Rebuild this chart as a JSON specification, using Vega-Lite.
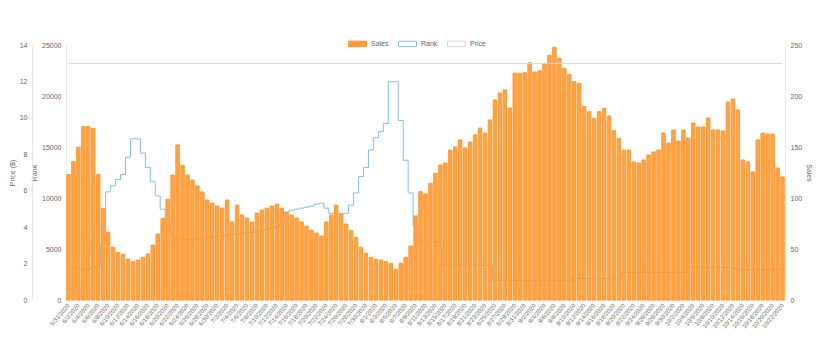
{
  "$schema": "https://vega.github.io/schema/vega-lite/v6.json",
  "width": 719,
  "height": 255,
  "padding": {"left": 8, "top": 34, "right": 5, "bottom": 5},
  "background": "white",
  "config": {
    "view": {"stroke": null},
    "font": "Liberation Sans",
    "axis": {
      "labelFontSize": 7,
      "labelColor": "#666666",
      "titleFontSize": 7,
      "titleFontWeight": "normal",
      "titleColor": "#666666",
      "domainColor": "#e8e8e8",
      "ticks": false,
      "grid": false,
      "labelPadding": 5
    },
    "legend": {
      "labelFontSize": 7,
      "labelColor": "#666666"
    }
  },
  "data": {
    "values": [
      {"d": "5/31/2020", "s": 12300, "r": 33, "p": 12.99},
      {"d": "6/1/2020", "s": 13560, "r": 32, "p": 12.99},
      {"d": "6/2/2020", "s": 14970, "r": 31, "p": 12.99},
      {"d": "6/3/2020", "s": 16990, "r": 30, "p": 12.99},
      {"d": "6/4/2020", "s": 17000, "r": 30, "p": 12.99},
      {"d": "6/5/2020", "s": 16830, "r": 31, "p": 12.99},
      {"d": "6/6/2020", "s": 12320, "r": 33, "p": 12.99},
      {"d": "6/7/2020", "s": 8990, "r": 55, "p": 12.99},
      {"d": "6/8/2020", "s": 6640, "r": 106, "p": 12.99},
      {"d": "6/9/2020", "s": 5170, "r": 112, "p": 12.99},
      {"d": "6/10/2020", "s": 4670, "r": 118, "p": 12.99},
      {"d": "6/11/2020", "s": 4480, "r": 123, "p": 12.99},
      {"d": "6/12/2020", "s": 4020, "r": 140, "p": 12.99},
      {"d": "6/13/2020", "s": 3760, "r": 158, "p": 12.99},
      {"d": "6/14/2020", "s": 3920, "r": 158, "p": 12.99},
      {"d": "6/15/2020", "s": 4180, "r": 144, "p": 12.99},
      {"d": "6/16/2020", "s": 4510, "r": 130, "p": 12.99},
      {"d": "6/17/2020", "s": 5390, "r": 116, "p": 12.99},
      {"d": "6/18/2020", "s": 6470, "r": 102, "p": 12.99},
      {"d": "6/19/2020", "s": 8010, "r": 89, "p": 12.99},
      {"d": "6/20/2020", "s": 9870, "r": 75, "p": 12.99},
      {"d": "6/21/2020", "s": 12250, "r": 62, "p": 12.99},
      {"d": "6/22/2020", "s": 15200, "r": 60, "p": 12.99},
      {"d": "6/23/2020", "s": 13200, "r": 60, "p": 12.99},
      {"d": "6/24/2020", "s": 12250, "r": 59, "p": 12.99},
      {"d": "6/25/2020", "s": 11760, "r": 59, "p": 12.99},
      {"d": "6/26/2020", "s": 11180, "r": 60, "p": 12.99},
      {"d": "6/27/2020", "s": 10590, "r": 60, "p": 12.99},
      {"d": "6/28/2020", "s": 9800, "r": 61, "p": 12.99},
      {"d": "6/29/2020", "s": 9500, "r": 62, "p": 12.99},
      {"d": "6/30/2020", "s": 9200, "r": 63, "p": 12.99},
      {"d": "7/1/2020", "s": 9000, "r": 63, "p": 12.99},
      {"d": "7/2/2020", "s": 9800, "r": 64, "p": 12.99},
      {"d": "7/3/2020", "s": 7650, "r": 64, "p": 12.99},
      {"d": "7/4/2020", "s": 9300, "r": 65, "p": 12.99},
      {"d": "7/5/2020", "s": 8330, "r": 65, "p": 12.99},
      {"d": "7/6/2020", "s": 8040, "r": 66, "p": 12.99},
      {"d": "7/7/2020", "s": 7650, "r": 66, "p": 12.99},
      {"d": "7/8/2020", "s": 8530, "r": 67, "p": 12.99},
      {"d": "7/9/2020", "s": 8820, "r": 68, "p": 12.99},
      {"d": "7/10/2020", "s": 9000, "r": 69, "p": 12.99},
      {"d": "7/11/2020", "s": 9200, "r": 70, "p": 12.99},
      {"d": "7/12/2020", "s": 9400, "r": 72, "p": 12.99},
      {"d": "7/13/2020", "s": 9000, "r": 75, "p": 12.99},
      {"d": "7/14/2020", "s": 8600, "r": 86, "p": 12.99},
      {"d": "7/15/2020", "s": 8330, "r": 88, "p": 12.99},
      {"d": "7/16/2020", "s": 8040, "r": 89, "p": 12.99},
      {"d": "7/17/2020", "s": 7650, "r": 90, "p": 12.99},
      {"d": "7/18/2020", "s": 7250, "r": 91, "p": 12.99},
      {"d": "7/19/2020", "s": 6860, "r": 92, "p": 12.99},
      {"d": "7/20/2020", "s": 6570, "r": 94, "p": 12.99},
      {"d": "7/21/2020", "s": 6270, "r": 95, "p": 12.99},
      {"d": "7/22/2020", "s": 7650, "r": 90, "p": 12.99},
      {"d": "7/23/2020", "s": 8330, "r": 85, "p": 12.99},
      {"d": "7/24/2020", "s": 9300, "r": 85, "p": 12.99},
      {"d": "7/25/2020", "s": 8430, "r": 85, "p": 12.99},
      {"d": "7/26/2020", "s": 7450, "r": 85, "p": 12.99},
      {"d": "7/27/2020", "s": 6800, "r": 93, "p": 12.99},
      {"d": "7/28/2020", "s": 6110, "r": 105, "p": 12.99},
      {"d": "7/29/2020", "s": 5170, "r": 121, "p": 12.99},
      {"d": "7/30/2020", "s": 4570, "r": 130, "p": 12.99},
      {"d": "7/31/2020", "s": 4180, "r": 147, "p": 12.99},
      {"d": "8/1/2020", "s": 3990, "r": 159, "p": 12.99},
      {"d": "8/2/2020", "s": 3920, "r": 165, "p": 12.99},
      {"d": "8/3/2020", "s": 3760, "r": 173, "p": 12.99},
      {"d": "8/4/2020", "s": 3600, "r": 214, "p": 12.99},
      {"d": "8/5/2020", "s": 3010, "r": 214, "p": 12.99},
      {"d": "8/6/2020", "s": 3600, "r": 176, "p": 12.99},
      {"d": "8/7/2020", "s": 4180, "r": 137, "p": 12.99},
      {"d": "8/8/2020", "s": 5290, "r": 105, "p": 12.99},
      {"d": "8/9/2020", "s": 8240, "r": 73, "p": 12.99},
      {"d": "8/10/2020", "s": 10620, "r": 57, "p": 12.99},
      {"d": "8/11/2020", "s": 10390, "r": 57, "p": 12.99},
      {"d": "8/12/2020", "s": 11440, "r": 57, "p": 12.99},
      {"d": "8/13/2020", "s": 12420, "r": 57, "p": 12.99},
      {"d": "8/14/2020", "s": 13240, "r": 57, "p": 12.99},
      {"d": "8/15/2020", "s": 13430, "r": 34, "p": 12.99},
      {"d": "8/16/2020", "s": 14700, "r": 34, "p": 12.99},
      {"d": "8/17/2020", "s": 15000, "r": 34, "p": 12.99},
      {"d": "8/18/2020", "s": 15690, "r": 34, "p": 12.99},
      {"d": "8/19/2020", "s": 14900, "r": 34, "p": 12.99},
      {"d": "8/20/2020", "s": 15490, "r": 34, "p": 12.99},
      {"d": "8/21/2020", "s": 16180, "r": 34, "p": 12.99},
      {"d": "8/22/2020", "s": 16860, "r": 34, "p": 12.99},
      {"d": "8/23/2020", "s": 16370, "r": 34, "p": 12.99},
      {"d": "8/24/2020", "s": 17650, "r": 34, "p": 12.99},
      {"d": "8/25/2020", "s": 19610, "r": 19, "p": 12.99},
      {"d": "8/26/2020", "s": 20290, "r": 19, "p": 12.99},
      {"d": "8/27/2020", "s": 20590, "r": 19, "p": 12.99},
      {"d": "8/28/2020", "s": 18820, "r": 19, "p": 12.99},
      {"d": "8/29/2020", "s": 22250, "r": 19, "p": 12.99},
      {"d": "8/30/2020", "s": 22220, "r": 19, "p": 12.99},
      {"d": "8/31/2020", "s": 22290, "r": 19, "p": 12.99},
      {"d": "9/1/2020", "s": 23270, "r": 19, "p": 12.99},
      {"d": "9/2/2020", "s": 22350, "r": 19, "p": 12.99},
      {"d": "9/3/2020", "s": 22480, "r": 19, "p": 12.99},
      {"d": "9/4/2020", "s": 23140, "r": 19, "p": 12.99},
      {"d": "9/5/2020", "s": 23990, "r": 19, "p": 12.99},
      {"d": "9/6/2020", "s": 24770, "r": 19, "p": 12.99},
      {"d": "9/7/2020", "s": 23690, "r": 19, "p": 12.99},
      {"d": "9/8/2020", "s": 22710, "r": 19, "p": 12.99},
      {"d": "9/9/2020", "s": 22120, "r": 19, "p": 12.99},
      {"d": "9/10/2020", "s": 21400, "r": 21, "p": 12.99},
      {"d": "9/11/2020", "s": 21240, "r": 21, "p": 12.99},
      {"d": "9/12/2020", "s": 18950, "r": 21, "p": 12.99},
      {"d": "9/13/2020", "s": 18460, "r": 21, "p": 12.99},
      {"d": "9/14/2020", "s": 17810, "r": 21, "p": 12.99},
      {"d": "9/15/2020", "s": 18460, "r": 21, "p": 12.99},
      {"d": "9/16/2020", "s": 18790, "r": 21, "p": 12.99},
      {"d": "9/17/2020", "s": 18040, "r": 21, "p": 12.99},
      {"d": "9/18/2020", "s": 16600, "r": 21, "p": 12.99},
      {"d": "9/19/2020", "s": 15850, "r": 21, "p": 12.99},
      {"d": "9/20/2020", "s": 14700, "r": 27, "p": 12.99},
      {"d": "9/21/2020", "s": 14700, "r": 27, "p": 12.99},
      {"d": "9/22/2020", "s": 13530, "r": 27, "p": 12.99},
      {"d": "9/23/2020", "s": 13430, "r": 27, "p": 12.99},
      {"d": "9/24/2020", "s": 13730, "r": 27, "p": 12.99},
      {"d": "9/25/2020", "s": 14220, "r": 27, "p": 12.99},
      {"d": "9/26/2020", "s": 14510, "r": 27, "p": 12.99},
      {"d": "9/27/2020", "s": 14700, "r": 27, "p": 12.99},
      {"d": "9/28/2020", "s": 16370, "r": 27, "p": 12.99},
      {"d": "9/29/2020", "s": 15390, "r": 27, "p": 12.99},
      {"d": "9/30/2020", "s": 16670, "r": 27, "p": 12.99},
      {"d": "10/1/2020", "s": 15590, "r": 27, "p": 12.99},
      {"d": "10/2/2020", "s": 16670, "r": 27, "p": 12.99},
      {"d": "10/3/2020", "s": 15880, "r": 32, "p": 12.99},
      {"d": "10/4/2020", "s": 17350, "r": 32, "p": 12.99},
      {"d": "10/5/2020", "s": 16960, "r": 32, "p": 12.99},
      {"d": "10/6/2020", "s": 16960, "r": 32, "p": 12.99},
      {"d": "10/7/2020", "s": 17840, "r": 32, "p": 12.99},
      {"d": "10/8/2020", "s": 16670, "r": 32, "p": 12.99},
      {"d": "10/9/2020", "s": 16670, "r": 32, "p": 12.99},
      {"d": "10/10/2020", "s": 16570, "r": 32, "p": 12.99},
      {"d": "10/11/2020", "s": 19410, "r": 32, "p": 12.99},
      {"d": "10/12/2020", "s": 19710, "r": 32, "p": 12.99},
      {"d": "10/13/2020", "s": 18630, "r": 30, "p": 12.99},
      {"d": "10/14/2020", "s": 13730, "r": 30, "p": 12.99},
      {"d": "10/15/2020", "s": 13530, "r": 30, "p": 12.99},
      {"d": "10/16/2020", "s": 12550, "r": 30, "p": 12.99},
      {"d": "10/17/2020", "s": 15690, "r": 30, "p": 12.99},
      {"d": "10/18/2020", "s": 16370, "r": 30, "p": 12.99},
      {"d": "10/19/2020", "s": 16270, "r": 30, "p": 12.99},
      {"d": "10/20/2020", "s": 16270, "r": 30, "p": 12.99},
      {"d": "10/21/2020", "s": 12940, "r": 30, "p": 12.99},
      {"d": "10/22/2020", "s": 12060, "r": 30, "p": 12.99}
    ]
  },
  "encoding": {
    "x": {
      "field": "d",
      "type": "ordinal",
      "sort": null,
      "scale": {"paddingInner": 0.3, "paddingOuter": 0.15},
      "axis": {
        "title": null,
        "labelAngle": -50,
        "labelFontSize": 6,
        "labelPadding": 4,
        "labelOverlap": false,
        "labelExpr": "round(datum.index * 144) % 2 ? '' : datum.label"
      }
    }
  },
  "layer": [
    {
      "mark": {"type": "line", "interpolate": "step", "strokeWidth": 1},
      "encoding": {
        "y": {
          "field": "r",
          "type": "quantitative",
          "scale": {"domain": [0, 250]},
          "axis": {"orient": "right", "title": "Sales", "titleAngle": 90, "values": [0, 50, 100, 150, 200, 250]}
        },
        "stroke": {
          "datum": "Rank",
          "type": "nominal",
          "scale": {"domain": ["Sales", "Rank", "Price"], "range": ["#FF9933", "#86BEE6", "#D6D6D6"]},
          "legend": {
            "title": null,
            "orient": "none",
            "legendX": 282,
            "legendY": -11,
            "direction": "horizontal",
            "symbolType": "M-1,-0.3H1V0.3H-1Z",
            "symbolSize": 324,
            "symbolStrokeWidth": 1,
            "columnPadding": 7
          }
        }
      }
    },
    {
      "mark": {"type": "bar", "fillOpacity": 0.9, "strokeWidth": 1},
      "encoding": {
        "y": {
          "field": "s",
          "type": "quantitative",
          "scale": {"domain": [0, 25000]},
          "axis": {"orient": "left", "title": "Rank", "format": "d", "values": [0, 5000, 10000, 15000, 20000, 25000]}
        },
        "fill": {
          "datum": "Sales",
          "type": "nominal",
          "scale": {"domain": ["Sales", "Rank", "Price"], "range": ["#FF9933", "#FFFFFF", "#FFFFFF"]},
          "legend": {
            "title": null,
            "orient": "none",
            "legendX": 282,
            "legendY": -11,
            "direction": "horizontal",
            "symbolType": "M-1,-0.3H1V0.3H-1Z",
            "symbolSize": 324,
            "symbolStrokeWidth": 1,
            "columnPadding": 7
          }
        },
        "stroke": {"datum": "Sales", "type": "nominal"}
      }
    },
    {
      "mark": {"type": "line", "strokeWidth": 1},
      "encoding": {
        "y": {
          "field": "p",
          "type": "quantitative",
          "scale": {"domain": [0, 14]},
          "axis": {"orient": "left", "title": "Price ($)", "offset": 34, "values": [0, 2, 4, 6, 8, 10, 12, 14]}
        },
        "stroke": {"datum": "Price", "type": "nominal"}
      }
    }
  ],
  "resolve": {"scale": {"y": "independent"}}
}
